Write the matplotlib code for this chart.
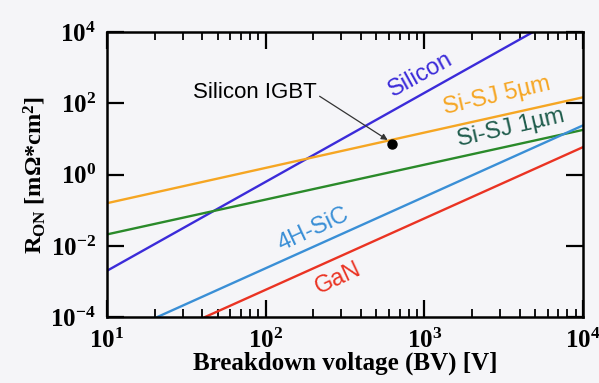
import matplotlib
matplotlib.use("Agg")
import matplotlib.pyplot as plt
import numpy as np
from matplotlib.ticker import LogLocator, NullLocator, NullFormatter, FuncFormatter

# (log-log, straight lines -> end points)
si_bv = [10, 4830]
si_ron = [2.0e-3, 1.0e4]
sj5_bv = [10, 1e4]
sj5_ron = [0.158, 148]
sj1_bv = [10, 1e4]
sj1_ron = [0.021, 18]
sic_bv = [20.7, 1e4]
sic_ron = [1e-4, 24]
gan_bv = [41.4, 1e4]
gan_ron = [1e-4, 5.9]
igbt_bv = [631]
igbt_ron = [7.1]

BG = "#f5f5f8"
C_SI = "#3b2bd9"
C_SJ5 = "#f5a623"
C_SJ1 = "#2a8a2a"
C_SJ1_TXT = "#1f5c4c"
C_SIC = "#3a8fd6"
C_GAN = "#ea3323"

plt.rcParams["mathtext.fontset"] = "custom"
plt.rcParams["mathtext.rm"] = "Liberation Serif:bold"
plt.rcParams["mathtext.it"] = "Liberation Serif:bold"
plt.rcParams["mathtext.bf"] = "Liberation Serif:bold"

fig = plt.figure(figsize=(5.99, 3.83), dpi=100, facecolor=BG)
ax = fig.add_axes([0.1786, 0.172, 0.7944, 0.744])
ax.set_facecolor(BG)

ax.plot(si_bv, si_ron, color=C_SI, lw=1.7)
ax.plot(sj5_bv, sj5_ron, color=C_SJ5, lw=1.7)
ax.plot(sj1_bv, sj1_ron, color=C_SJ1, lw=1.7)
ax.plot(sic_bv, sic_ron, color=C_SIC, lw=1.7)
ax.plot(gan_bv, gan_ron, color=C_GAN, lw=1.7)
ax.plot(igbt_bv, igbt_ron, "o", color="black", ms=6.5)

ax.set_xscale("log")
ax.set_yscale("log")
ax.set_xlim(10, 1e4)
ax.set_ylim(1e-4, 1e4)
ax.set_yticks([1e-4, 1e-2, 1, 1e2, 1e4])
ax.yaxis.set_minor_locator(NullLocator())
ax.xaxis.set_minor_locator(LogLocator(base=10, subs=range(2, 10)))
ax.xaxis.set_minor_formatter(NullFormatter())

pow_fmt = FuncFormatter(lambda v, p: r"$\mathbf{10^{%d}}$" % int(round(np.log10(v))))
ax.xaxis.set_major_formatter(pow_fmt)
ax.yaxis.set_major_formatter(pow_fmt)

for s in ax.spines.values():
    s.set_linewidth(1.8)
ax.tick_params(which="both", direction="in", top=True, right=True, width=1.6)
ax.tick_params(which="major", length=12, labelsize=18)
ax.tick_params(which="minor", length=6, width=1.3)
ax.tick_params(axis="x", pad=8)
ax.tick_params(axis="y", pad=8)

ax.set_xlabel("Breakdown voltage (BV) [V]", family="Liberation Serif",
              fontweight="bold", fontsize=18, labelpad=-1)
ax.set_ylabel(r"R$_{\mathrm{ON}}$ [m$\Omega$*cm$^{2}$]", family="Liberation Serif",
              fontweight="bold", fontsize=17.5, labelpad=2)

# curve labels
lab_kw = dict(family="Liberation Sans", fontsize=17, ha="center", va="center")
ax.text(955, 617, "Silicon", color=C_SI, rotation=29, **lab_kw)
ax.text(2880, 165, "Si-SJ 5µm", color=C_SJ5, rotation=13, **lab_kw)
ax.text(3510, 20, "Si-SJ 1µm", color=C_SJ1_TXT, rotation=13, **lab_kw)
ax.text(199, 0.028, "4H-SiC", color=C_SIC, rotation=25, **lab_kw)
ax.text(286, 1.2e-3, "GaN", color=C_GAN, rotation=25, **lab_kw)

ax.annotate("Silicon IGBT", xy=(588, 9.4), xytext=(85.7, 204),
            family="Liberation Sans", fontsize=16, ha="center", va="center",
            arrowprops=dict(arrowstyle="-|>", color="#333333", lw=0.9,
                            mutation_scale=9, shrinkA=0, shrinkB=0,
                            relpos=(1.0, 0.4)))

fig.savefig("out.png", dpi=100, facecolor=BG)
